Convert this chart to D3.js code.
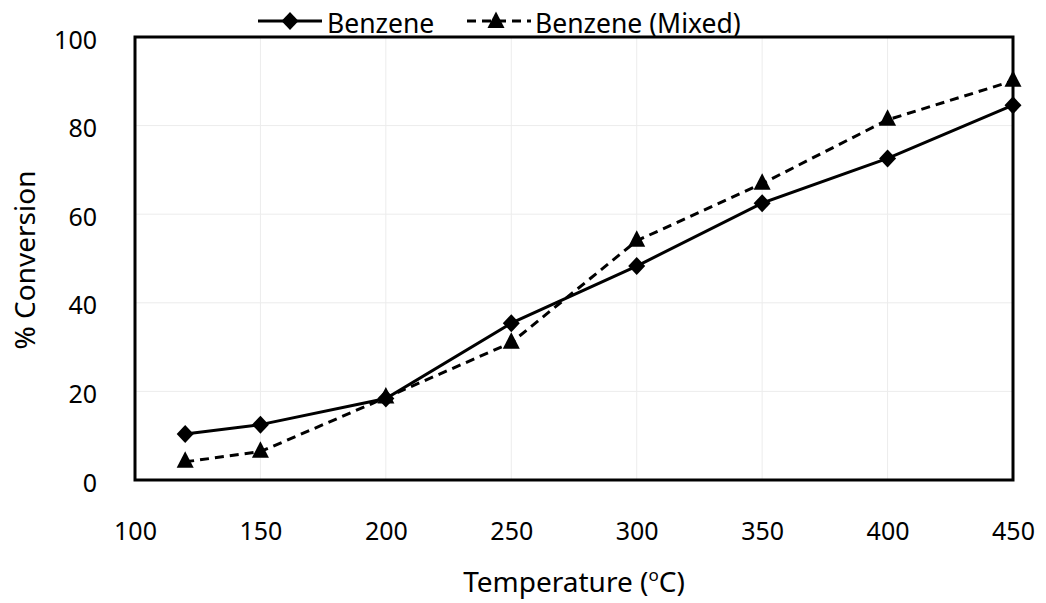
<!DOCTYPE html>
<html>
<head>
<meta charset="utf-8">
<script src="https://cdn.jsdelivr.net/npm/d3@7"></script>
<style>
  html, body { margin: 0; padding: 0; background: #fff; }
  svg text { font-family: "Noto Sans", "Open Sans", sans-serif; fill: #000; }
</style>
</head>
<body>
<svg id="chart" width="1046" height="603"></svg>
<script>
// Reaction temperature (°C)
const temperatures = [120, 150, 200, 250, 300, 350, 400, 450];
// % conversion of benzene alone
const benzene = [10.4, 12.5, 18.4, 35.4, 48.3, 62.5, 72.6, 84.6];
// % conversion of benzene in the mixed feed
const benzeneMixed = [4.1, 6.4, 18.6, 31.0, 54.0, 66.9, 81.3, 90.1];
const xTicks = [100, 150, 200, 250, 300, 350, 400, 450];
const yTicks = [0, 20, 40, 60, 80, 100];

const svg = d3.select("#chart");
const margin = { left: 135, right: 1013, top: 37, bottom: 480 };

const x = d3.scaleLinear().domain([100, 450]).range([margin.left, margin.right]);
const y = d3.scaleLinear().domain([0, 100]).range([margin.bottom, margin.top]);

// light gridlines
svg.append("g")
  .selectAll("line")
  .data(xTicks.slice(1, -1))
  .join("line")
  .attr("x1", d => x(d)).attr("x2", d => x(d))
  .attr("y1", margin.top).attr("y2", margin.bottom)
  .attr("stroke", "#ececec").attr("stroke-width", 1);
svg.append("g")
  .selectAll("line")
  .data(yTicks.slice(1, -1))
  .join("line")
  .attr("x1", margin.left).attr("x2", margin.right)
  .attr("y1", d => y(d)).attr("y2", d => y(d))
  .attr("stroke", "#ececec").attr("stroke-width", 1);

// axes (labels only; the frame is drawn separately)
const xAxis = svg.append("g")
  .attr("transform", `translate(0,${margin.bottom})`)
  .call(d3.axisBottom(x).tickValues(xTicks).tickSize(0).tickPadding(42));
xAxis.select(".domain").remove();
xAxis.selectAll("text").attr("font-size", 25).style("font-family", "'Noto Sans', sans-serif");

const yAxis = svg.append("g")
  .attr("transform", `translate(${margin.left},3)`)
  .call(d3.axisLeft(y).tickValues(yTicks).tickSize(0).tickPadding(38));
yAxis.select(".domain").remove();
yAxis.selectAll("text").attr("font-size", 25).style("font-family", "'Noto Sans', sans-serif");

// plot frame
svg.append("rect")
  .attr("x", margin.left).attr("y", margin.top)
  .attr("width", margin.right - margin.left)
  .attr("height", margin.bottom - margin.top)
  .attr("fill", "none").attr("stroke", "#000").attr("stroke-width", 3);

const line = d3.line().x(d => x(d[0])).y(d => y(d[1]));
const diamondPath = "M0,-9L8.5,0L0,9L-8.5,0Z";
const trianglePath = "M0,-10.5L8.5,6L-8.5,6Z";

const s1 = temperatures.map((t, i) => [t, benzene[i]]);
const s2 = temperatures.map((t, i) => [t, benzeneMixed[i]]);

svg.append("path").datum(s2).attr("d", line)
  .attr("fill", "none").attr("stroke", "#000").attr("stroke-width", 3)
  .attr("stroke-dasharray", "9,6");
svg.append("path").datum(s1).attr("d", line)
  .attr("fill", "none").attr("stroke", "#000").attr("stroke-width", 3);

svg.append("g").selectAll("path").data(s1).join("path")
  .attr("d", diamondPath)
  .attr("transform", d => `translate(${x(d[0])},${y(d[1])})`)
  .attr("fill", "#000");
svg.append("g").selectAll("path").data(s2).join("path")
  .attr("d", trianglePath)
  .attr("transform", d => `translate(${x(d[0])},${y(d[1])})`)
  .attr("fill", "#000");

// axis titles
const xt = svg.append("text")
  .attr("x", 574).attr("y", 592)
  .attr("text-anchor", "middle").attr("font-size", 28);
xt.append("tspan").text("Temperature (");
xt.append("tspan").text("o").attr("font-size", 17).attr("dy", -11);
xt.append("tspan").text("C)").attr("dy", 11);

svg.append("text")
  .attr("transform", "translate(35,260) rotate(-90)")
  .attr("text-anchor", "middle").attr("font-size", 28)
  .text("% Conversion");

// legend
const legend = svg.append("g");
legend.append("line").attr("x1", 258).attr("x2", 322).attr("y1", 21).attr("y2", 21)
  .attr("stroke", "#000").attr("stroke-width", 3);
legend.append("path").attr("d", diamondPath).attr("transform", "translate(290,21)").attr("fill", "#000");
legend.append("text").attr("x", 327).attr("y", 33).attr("font-size", 26.5).text("Benzene");

legend.append("line").attr("x1", 467).attr("x2", 531).attr("y1", 21).attr("y2", 21)
  .attr("stroke", "#000").attr("stroke-width", 3).attr("stroke-dasharray", "9,6");
legend.append("path").attr("d", trianglePath).attr("transform", "translate(496,22)").attr("fill", "#000");
legend.append("text").attr("x", 535).attr("y", 33).attr("font-size", 26.5).text("Benzene (Mixed)");
</script>
</body>
</html>
